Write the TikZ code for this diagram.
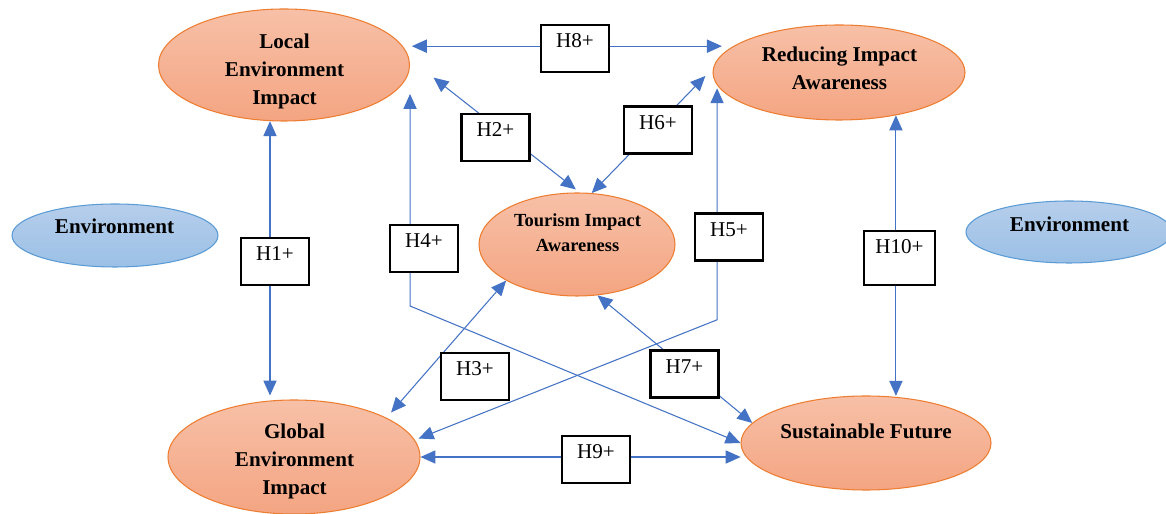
\documentclass[tikz,border=0pt]{standalone}
\usepackage{fontspec}
\setmainfont{Liberation Serif}
\usetikzlibrary{shapes.geometric}
\usetikzlibrary{arrows.meta}

\definecolor{linkblue}{RGB}{68,114,196}
\definecolor{ovalline}{RGB}{237,125,49}
\definecolor{ovaltop}{RGB}{247,192,167}
\definecolor{ovalbot}{RGB}{244,165,130}
\definecolor{envline}{RGB}{91,155,213}
\definecolor{envtop}{RGB}{182,206,235}
\definecolor{envbot}{RGB}{155,192,230}

\tikzset{
  oval/.style={ellipse, draw=ovalline, line width=0.6pt, top color=ovaltop, bottom color=ovalbot, inner sep=0pt},
  envoval/.style={ellipse, draw=envline, line width=0.6pt, top color=envtop, bottom color=envbot, inner sep=0pt, minimum width=4.12cm},
  ovaltxt/.style={font=\fontsize{12}{15.9}\selectfont\bfseries, align=center, inner sep=0pt},
  hyp/.style={draw=black, line width=1.4pt, fill=white, font=\fontsize{12}{14}\selectfont, minimum width=1.36cm, minimum height=0.94cm, inner xsep=0pt, inner ysep=1pt, text height=12pt, text depth=12.6pt},
  link/.style={draw=linkblue, line width=0.6pt, >={Triangle[length=8.5pt,width=7.5pt]}, <->},
}

\begin{document}
\begin{tikzpicture}
\useasboundingbox[fill=white] (0,0) rectangle (23.32,10.28);

% constructs
\node[oval, minimum width=5.02cm, minimum height=2.24cm] (loc) at (5.68,8.98) {};
\node[oval, minimum width=5.04cm, minimum height=1.90cm] (red) at (16.78,8.83) {};
\node[oval, minimum width=3.92cm, minimum height=2.06cm] (tou) at (11.54,5.39) {};
\node[oval, minimum width=5.04cm, minimum height=2.28cm] (glo) at (5.88,1.14) {};
\node[oval, minimum width=5.00cm, minimum height=1.88cm] (sus) at (17.32,1.42) {};
\node[envoval, minimum height=1.26cm] (envl) at (2.30,5.57) {};
\node[envoval, minimum height=1.24cm] (envr) at (21.38,5.64) {};

\node[ovaltxt] (loc-t) at (5.69,8.85) {Local\\Environment\\Impact};
\node[ovaltxt] (red-t) at (16.79,8.92) {Reducing Impact\\Awareness};
\node[ovaltxt, font=\fontsize{10.5}{14.3}\selectfont\bfseries] (tou-t) at (11.55,5.63) {Tourism Impact\\Awareness};
\node[ovaltxt] (glo-t) at (5.89,1.06) {Global\\Environment\\Impact};
\node[ovaltxt] (sus-t) at (17.32,1.65) {Sustainable Future};
\node[ovaltxt] (envl-t) at (2.29,5.75) {Environment};
\node[ovaltxt] (envr-t) at (21.39,5.79) {Environment};

% links
\draw[link, shorten <=0.18cm, shorten >=0.18cm] (loc.9) -- (loc.9 -| red.167);
\draw[link, shorten >=0.1cm] (loc.256) -- (loc.256 |- glo.113);
\draw[link, shorten >=0.02cm] (red.323) -- (red.323 |- sus.57);
\draw[link, shorten >=0.12cm] (glo.east) -- (glo.east -| sus.187);
\draw[link, shorten <=0.62cm, shorten >=0.1cm] (loc.3) -- (tou.87);
\draw[link, shorten >=0.22cm] (tou.74) -- (red.178);
\draw[link, shorten >=0.14cm] (tou.207) -- (glo.23);
\draw[link] (tou.292) -- (sus.170);
\draw[link] ([yshift=-0.58cm]loc.east) -- ++(0,-4.24) -- (sus.west);
\draw[link, shorten <=0.06cm, shorten >=0.08cm] (red.186) -- ++(0,-4.69) -- (glo.8);

% hypotheses
\node[hyp] (h8) at (11.50,9.31) {H8+};
\node[hyp] (h2) at (9.91,7.53) {H2+};
\node[hyp] (h6) at (13.16,7.68) {H6+};
\node[hyp] (h1) at (5.50,5.05) {H1+};
\node[hyp] (h4) at (8.48,5.31) {H4+};
\node[hyp] (h5) at (14.58,5.54) {H5+};
\node[hyp, minimum width=1.42cm, minimum height=1.08cm, text height=11.5pt, text depth=17.1pt] (h10) at (17.99,5.12) {H10+};
\node[hyp] (h3) at (9.50,2.75) {H3+};
\node[hyp] (h9) at (11.92,1.09) {H9+};
\node[hyp] (h7) at (13.69,2.80) {H7+};

\end{tikzpicture}
\end{document}
